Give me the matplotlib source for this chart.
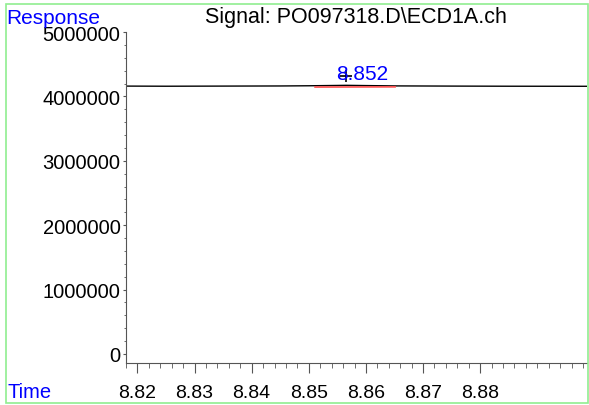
import numpy as np
import matplotlib.pyplot as plt
from matplotlib.patches import Rectangle
from matplotlib.ticker import FixedLocator

plt.rcParams['font.family'] = ['Liberation Sans', 'DejaVu Sans']

# signal trace
time = [8.8180, 8.825, 8.835, 8.845, 8.850, 8.855, 8.8565, 8.860, 8.865, 8.875, 8.885, 8.8987]
response = [4160000, 4158000, 4160000, 4162000, 4165000, 4170000, 4172000, 4168000, 4163000, 4160000, 4158000, 4157000]

# integration baseline
base_t = [8.8511, 8.8651]
base_r = [4145000, 4148000]

peak_t = 8.8565
peak_r = 4320000
peak_label = '8.852'

fig = plt.figure(figsize=(5.89, 4.06), dpi=100)
ax = fig.add_axes([126/589, 1-364/406, 461/589, 331/406])

ax.plot(time, response, color='black', lw=1)
ax.plot(base_t, base_r, color='#ff5050', lw=1.2)
ax.plot(peak_t, peak_r, marker='+', color='black', ms=8, mew=1.2)
ax.text(8.8593, 4360000, peak_label, color='blue', fontsize=15, ha='center', va='center')

ax.set_xlim(8.8180, 8.8987)
ax.set_ylim(-140000, 5000000)

ax.set_xticks([8.82, 8.83, 8.84, 8.85, 8.86, 8.87, 8.88])
ax.set_xticklabels(['8.82', '8.83', '8.84', '8.85', '8.86', '8.87', '8.88'])
ax.xaxis.set_minor_locator(FixedLocator(8.82 + np.arange(-1, 40) * 0.002))
ax.set_yticks([0, 1000000, 2000000, 3000000, 4000000, 5000000])
ax.set_yticklabels(['0', '1000000', '2000000', '3000000', '4000000', '5000000'])
ax.yaxis.set_minor_locator(FixedLocator(np.arange(0, 5000001, 200000)))

for s in ['top', 'right']:
    ax.spines[s].set_visible(False)
for s in ['left', 'bottom']:
    ax.spines[s].set_color('#555555')
ax.tick_params(axis='y', which='major', length=2.5, color='#555555', labelsize=14.5, pad=1.5)
ax.tick_params(axis='y', which='minor', length=1.8, color='#555555')
ax.tick_params(axis='x', which='major', length=7, color='#555555', labelsize=14, pad=8)
ax.tick_params(axis='x', which='minor', length=3.5, color='#555555')

fig.text(6/589, 1-18/406, 'Response', color='blue', fontsize=15, va='center', ha='left')
fig.text(7/589, 1-393/406, 'Time', color='blue', fontsize=14.5, va='center', ha='left')
fig.text(356/589, 1-18/406, 'Signal: PO097318.D\\ECD1A.ch', color='black', fontsize=15.5, va='center', ha='center')

fig.patches.append(Rectangle((6/589, 2/406), 582/589, 399/406, transform=fig.transFigure,
                             fill=False, edgecolor='#90ee90', lw=1.2))

fig.savefig('out.png', dpi=100)
